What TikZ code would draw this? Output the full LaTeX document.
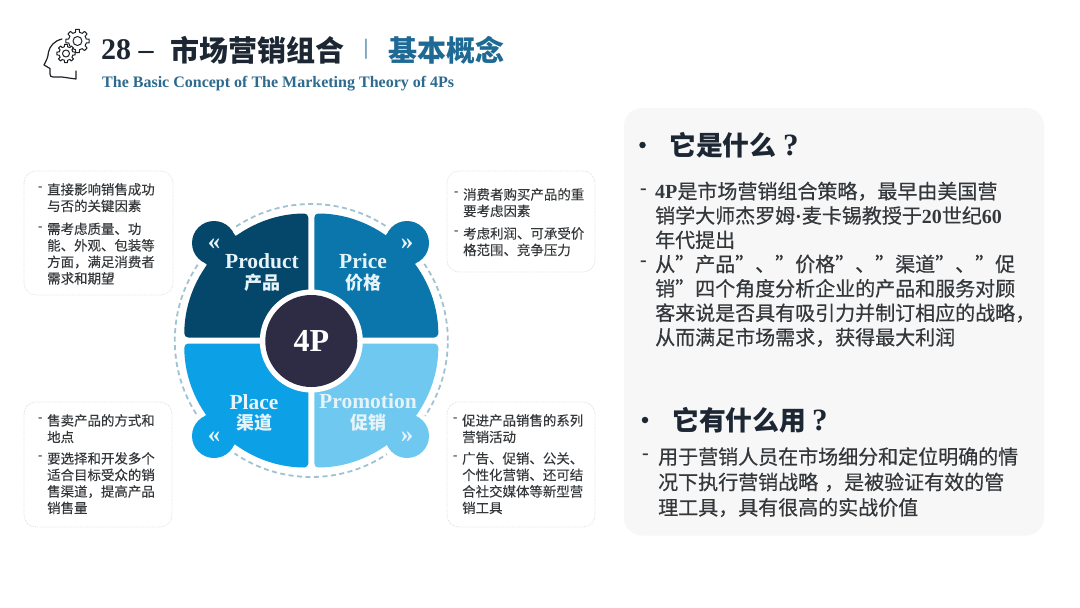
\documentclass[tikz,border=0pt]{standalone}
\usepackage{fontspec}
\setmainfont{Liberation Serif}
\newfontfamily\cjk{Noto Sans CJK SC}
\newfontfamily\cjkm[FakeBold=0.5]{Noto Sans CJK SC}
\newfontfamily\cjks[FakeBold=0.15]{Noto Sans CJK SC}
\newcommand{\ltn}[1]{{\rmfamily\bfseries #1}}
\definecolor{cproduct}{HTML}{04476B}
\definecolor{cprice}{HTML}{0A76AB}
\definecolor{cplace}{HTML}{0CA0E6}
\definecolor{cpromo}{HTML}{6FC8EF}
\definecolor{ccentre}{HTML}{2E2C45}
\definecolor{cpale}{HTML}{E6F4FA}
\definecolor{cring}{HTML}{9FC3D0}
\definecolor{ctitle}{HTML}{1C2733}
\definecolor{cblue}{HTML}{1F6A94}
\definecolor{csub}{HTML}{2D6A8E}
\definecolor{cpanel}{HTML}{F7F7F8}
\definecolor{cbody}{HTML}{35383B}
\definecolor{cdash}{HTML}{DDE0E0}
\definecolor{cdark}{HTML}{1E2226}
\usetikzlibrary{calc}
\tikzset{
  note/.style={draw=cdash,densely dotted,line width=0.8pt,fill=white,rounded corners=12pt},
  small/.style={inner sep=0pt,anchor=north west,align=left,text=cbody,font=\cjks\fontsize{13.45}{16.5}\selectfont},
  dashmark/.style={inner sep=0pt,anchor=west,text=cbody,font=\rmfamily\bfseries\fontsize{13}{16}\selectfont},
  big/.style={inner sep=0pt,anchor=north west,align=left,text=cbody,font=\cjkm\fontsize{20}{24.4}\selectfont},
  bigb/.style={big,font=\cjkm\fontsize{20}{25.4}\selectfont},
  bigdash/.style={inner sep=0pt,anchor=west,text=cbody,font=\rmfamily\bfseries\fontsize{20}{24.4}\selectfont},
  head/.style={inner sep=0pt,anchor=west,text=ctitle,font=\cjk\bfseries\fontsize{26.8}{30}\selectfont},
  qmark/.style={inner sep=0pt,anchor=west,text=ctitle,font=\rmfamily\bfseries\fontsize{31}{32}\selectfont},
  headbullet/.style={circle,fill=ctitle,inner sep=0pt,minimum size=6.5pt},
  qtext/.style={inner sep=0pt,align=center,text=cpale,font=\rmfamily\bfseries\fontsize{21.5}{22}\selectfont},
  qcjk/.style={inner sep=0pt,text=cpale,font=\cjk\bfseries\fontsize{18}{19}\selectfont},
  arrowmark/.style={inner sep=0pt,text=cpale,font=\rmfamily\bfseries\fontsize{25}{25}\selectfont},
  iconline/.style={draw=cdark,line width=1.2pt,line cap=round,line join=round},
  geartooth/.style={iconline,line width=1pt},
}
\newcommand{\gearicon}[3]{%
  \fill[white] (#1,#2) circle[radius=#3*1.15pt];
  \foreach \a in {0,45,...,315}{\draw[geartooth] ($(#1,#2)+(\a-13:#3*1pt)$) -- ($(#1,#2)+(\a-9:#3*1.32pt)$) -- ($(#1,#2)+(\a+9:#3*1.32pt)$) -- ($(#1,#2)+(\a+13:#3*1pt)$) arc[start angle=\a+13,end angle=\a+32,radius=#3*1pt];}
  \draw[geartooth] (#1,#2) circle[radius=#3*0.5pt];
}
% lobe centre x, y, outward signs x, y, colour
\newcommand{\lobe}[5]{%
  \fill[#5] (#1,#2) circle[radius=22pt];
  \fill[#5] (#1+#3*19.5,#2+#4*-10) .. controls (#1+#3*21.5,#2+#4*-6.5) .. (#1+#3*26,#2+#4*-8.5) -- (#1+#3*20,#2+#4*2) -- cycle;
  \fill[#5] (#1+#3*-10,#2+#4*19.5) .. controls (#1+#3*-6.5,#2+#4*21.5) .. (#1+#3*-8.5,#2+#4*26) -- (#1+#3*2,#2+#4*20) -- cycle;
}
\begin{document}
\begin{tikzpicture}[x=1pt,y=-1pt]
\useasboundingbox (0,0) rectangle (1080,608);
\fill[white] (0,0) rectangle (1080,608);
% title
\draw[iconline] (62,39) .. controls (54,41) and (50,46) .. (48.5,52) .. controls (48,58) and (46,61) .. (44,65) -- (50,68.5) -- (50,74) .. controls (50,76) and (51,77) .. (53,77) -- (62,77) -- (76,79) -- (76,71);
\gearicon{77.5}{41}{9}
\gearicon{66}{53.5}{7}
\node[anchor=west,inner sep=0pt,text=ctitle,font=\rmfamily\bfseries\fontsize{30}{32}\selectfont] (tnum) at (101,50) {28 –};
\node[anchor=west,inner sep=0pt,text=ctitle,font=\cjk\bfseries\fontsize{29}{32}\selectfont] (ttitle) at (170,50) {市场营销组合};
\node[anchor=center,inner sep=0pt,text=cblue,font=\rmfamily\fontsize{22}{24}\selectfont] (tbar) at (366,49) {|};
\node[anchor=west,inner sep=0pt,text=cblue,font=\cjk\bfseries\fontsize{29}{32}\selectfont] (tconcept) at (388,50) {基本概念};
\node[anchor=west,inner sep=0pt,text=csub,font=\rmfamily\bfseries\fontsize{16}{18}\selectfont] (tsub) at (102,83.5) {The Basic Concept of The Marketing Theory of 4Ps};
% notes
\draw[note] (24,171) rectangle (173,295);
\draw[note] (447,171) rectangle (595,272);
\draw[note] (24,402) rectangle (172,527);
\draw[note] (447,402) rectangle (595,527);
\node[dashmark] (d1) at (38,189) {-};
\node[small] (n1) at (47,183) {直接影响销售成功\\与否的关键因素};
\node[dashmark] (d2) at (38,228.5) {-};
\node[small] (n2) at (47,222.5) {需考虑质量、功\\能、外观、包装等\\方面，满足消费者\\需求和期望};
\node[dashmark] (d3) at (454,194) {-};
\node[small] (n3) at (463,188) {消费者购买产品的重\\要考虑因素};
\node[dashmark] (d4) at (454,233) {-};
\node[small] (n4) at (463,227) {考虑利润、可承受价\\格范围、竞争压力};
\node[dashmark] (d5) at (38,420) {-};
\node[small] (n5) at (47,414) {售卖产品的方式和\\地点};
\node[dashmark] (d6) at (38,458) {-};
\node[small] (n6) at (47,452) {要选择和开发多个\\适合目标受众的销\\售渠道，提高产品\\销售量};
\node[dashmark] (d7) at (453,420) {-};
\node[small] (n7) at (462,414) {促进产品销售的系列\\营销活动};
\node[dashmark] (d8) at (453,458) {-};
\node[small] (n8) at (462,452) {广告、促销、公关、\\个性化营销、还可结\\合社交媒体等新型营\\销工具};
% wheel
\def\cx{311.3}\def\cy{340.5}
\draw[cring,line width=1.8pt,dash pattern=on 5pt off 3.5pt] (\cx,\cy) circle[radius=136.5pt];
\foreach \lx/\ly in {214/243,407/243,214/436,407/436}{\fill[white] (\lx,\ly) circle[radius=27pt];}
\fill[cproduct,rounded corners=4pt] (\cx-3,\cy-3) -- (\cx-3,\cy-127) arc[start angle=90,end angle=180,radius=124pt] -- cycle;
\fill[cprice,rounded corners=4pt] (\cx+3,\cy-3) -- (\cx+127,\cy-3) arc[start angle=0,end angle=90,radius=124pt] -- cycle;
\fill[cplace,rounded corners=4pt] (\cx-3,\cy+3) -- (\cx-127,\cy+3) arc[start angle=180,end angle=270,radius=124pt] -- cycle;
\fill[cpromo,rounded corners=4pt] (\cx+3,\cy+3) -- (\cx+3,\cy+127) arc[start angle=270,end angle=360,radius=124pt] -- cycle;
\lobe{214}{243}{1}{1}{cproduct}
\lobe{407}{243}{-1}{1}{cprice}
\lobe{214}{436}{1}{-1}{cplace}
\lobe{407}{436}{-1}{-1}{cpromo}
\fill[white] (\cx,341) circle[radius=51.5pt];
\node[circle,fill=ccentre,minimum size=92pt,inner sep=0pt,text=white,font=\rmfamily\bfseries\fontsize{32}{34}\selectfont] (centre) at (\cx,341) {4P};
\node[qtext] (product) at (262,261) {Product};
\node[qcjk] (productc) at (262,283) {产品};
\node[qtext] (price) at (363,261) {Price};
\node[qcjk] (pricec) at (363,283) {价格};
\node[qtext] (place) at (254,402) {Place};
\node[qcjk] (placec) at (254,423) {渠道};
\node[qtext] (promotion) at (368,401) {Promotion};
\node[qcjk] (promotionc) at (368,423) {促销};
\node[arrowmark] (a1) at (214,244) {«};
\node[arrowmark] (a2) at (407,244) {»};
\node[arrowmark] (a3) at (214,437) {«};
\node[arrowmark] (a4) at (407,437) {»};
% panel
\fill[cpanel,rounded corners=18pt] (624,108) rectangle (1044,535.5);
\node[headbullet] (b1) at (642.5,145) {};
\node[head] (h1) at (669,145) {它是什么};
\node[qmark] (q1) at (783,145) {?};
\node[bigdash] (bd1) at (640,192) {-};
\node[big] (body1) at (655,181.5) {\ltn{4P}是市场营销组合策略，最早由美国营\\销学大师杰罗姆\ltn{·}麦卡锡教授于\ltn{20}世纪\ltn{60}\\年代提出};
\node[bigdash] (bd2) at (640,264) {-};
\node[big] (body2) at (655,254.5) {从”产品”、”价格”、”渠道”、”促\\销”四个角度分析企业的产品和服务对顾\\客来说是否具有吸引力并制订相应的战略，\\从而满足市场需求，获得最大利润};
\node[headbullet] (b2) at (645,420) {};
\node[head] (h2) at (672,420) {它有什么用};
\node[qmark] (q2) at (812,420) {?};
\node[bigdash] (bd3) at (642,457) {-};
\node[bigb] (body3) at (658,447) {用于营销人员在市场细分和定位明确的情\\况下执行营销战略\hspace{6pt}，是被验证有效的管\\理工具，具有很高的实战价值};
\end{tikzpicture}
\end{document}
